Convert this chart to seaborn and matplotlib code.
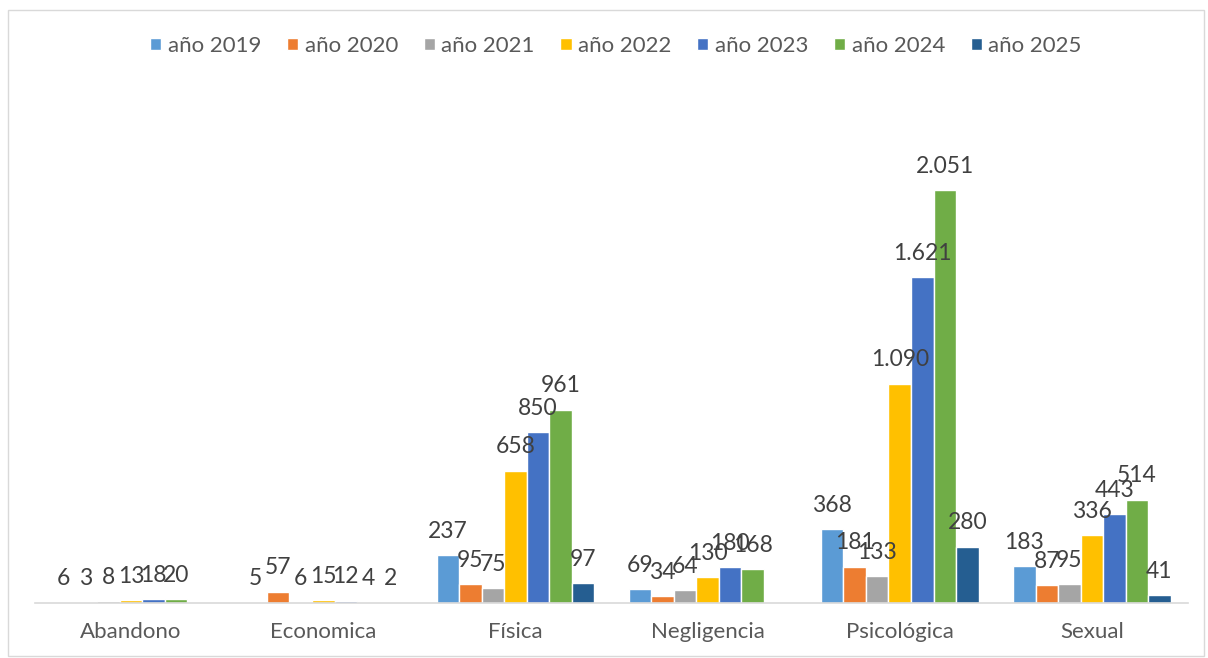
import pandas as pd
import seaborn as sns
import matplotlib.pyplot as plt
from matplotlib.patches import Patch, Rectangle

# datos
categorias = ["Abandono", "Economica", "Física", "Negligencia", "Psicológica", "Sexual"]
anios = ["año 2019", "año 2020", "año 2021", "año 2022", "año 2023", "año 2024", "año 2025"]
v2019 = [6, 5, 237, 69, 368, 183]
v2020 = [3, 57, 95, 34, 181, 87]
v2021 = [8, 6, 75, 64, 133, 95]
v2022 = [13, 15, 658, 130, 1090, 336]
v2023 = [18, 12, 850, 180, 1621, 443]
v2024 = [20, 4, 961, 168, 2051, 514]
v2025 = [None, 2, 97, None, 280, 41]
colores = ["#5B9BD5", "#ED7D31", "#A5A5A5", "#FFC000", "#4472C4", "#70AD47", "#255E91"]

series = [v2019, v2020, v2021, v2022, v2023, v2024, v2025]
filas = []
for anio, valores in zip(anios, series):
    for cat, v in zip(categorias, valores):
        if v is not None:
            filas.append({"categoria": cat, "anio": anio, "casos": v})
df = pd.DataFrame(filas)

sns.set_theme(style="white")
plt.rcParams["font.family"] = ["Lato", "DejaVu Sans"]
gris = "#595959"

fig = plt.figure(figsize=(12.08, 6.58), dpi=100)
ax = fig.add_axes([35 / 1208, 55 / 658, 1153 / 1208, 503 / 658])

sns.barplot(data=df, x="categoria", y="casos", hue="anio", order=categorias,
            hue_order=anios, palette=colores, width=0.82, saturation=1,
            errorbar=None, legend=False, ax=ax)

for cont in ax.containers:
    ax.bar_label(cont, fmt=lambda v: f"{v:,.0f}".replace(",", "."),
                 padding=9.5, fontsize=16.5, color="#404040")

ax.set_ylim(0, 2500)
ax.set_xlim(-0.5, 5.5)
ax.set_yticks([])
ax.set_xlabel("")
ax.set_ylabel("")
for s in ["top", "left", "right"]:
    ax.spines[s].set_visible(False)
ax.spines["bottom"].set_color("#d9d9d9")
ax.spines["bottom"].set_linewidth(1.2)
ax.tick_params(axis="x", length=0, pad=14, labelsize=16, labelcolor=gris)

handles = [Patch(facecolor=c, label=a) for a, c in zip(anios, colores)]
fig.legend(handles=handles, loc="center", bbox_to_anchor=(616 / 1208, 1 - 46 / 658),
           ncol=7, frameon=False, fontsize=16, labelcolor=gris,
           handlelength=0.5, handleheight=0.5, handletextpad=0.3, columnspacing=1.15)

fig.patches.append(Rectangle((8 / 1208, 2 / 658), 1196 / 1208, 646 / 658,
                             transform=fig.transFigure, fill=False,
                             edgecolor="#d9d9d9", linewidth=1))

fig.savefig("out.png", dpi=100)
